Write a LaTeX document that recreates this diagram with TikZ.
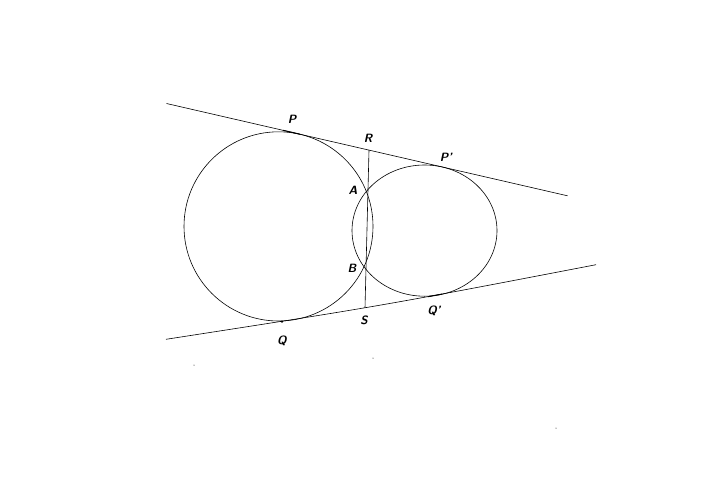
\documentclass[tikz,border=0pt]{standalone}
\begin{document}
\begin{tikzpicture}[x=1pt,y=-1pt,
  geo/.style={line width=0.6pt,black},
  lab/.style={font=\fontsize{12}{12}\selectfont\sffamily\bfseries\itshape,inner sep=1pt},
  speck/.style={fill=black,inner sep=0pt,minimum size=1pt,circle}]
\useasboundingbox (0,0) rectangle (720,477);
% tangent lines
\coordinate (T1) at (166.5,103.5);
\coordinate (T2) at (567.5,195.8);
\coordinate (B1) at (166,339.3);
\coordinate (BC) at (381,306);
\coordinate (B2) at (596,264.7);
\draw[geo] (T1) -- (T2);
\draw[geo] (B1) .. controls (BC) .. (B2);
% circles
\coordinate (O1) at (278.5,226.4);
\coordinate (O2) at (424.5,230.6);
\draw[geo] (O1) ellipse [x radius=94.5, y radius=94.6];
\draw[geo] (O2) ellipse [x radius=72.5, y radius=65.6];
% radical axis segment
\coordinate (Rp) at (369,150.1);
\coordinate (Sp) at (365,307.8);
\draw[geo] (Rp) -- (Sp);
% tangency marks
\coordinate (Qp) at (282,321.6);
\draw[line width=1pt] (283,130.3) -- (300,134.2);
\fill (Qp) circle (1.3);
\draw[line width=1pt] (428,296.7) -- (442,294.1);
% labels
\node[lab] (P) at (292,119.5) {P};
\node[lab] (R) at (368,138) {R};
\node[lab] (P2) at (446,157.5) {P'};
\node[lab] (A) at (353,190) {A};
\node[lab] (B) at (352,268) {B};
\node[lab] (S) at (364,320.5) {S};
\node[lab] (Q) at (282,341) {Q};
\node[lab] (Q2) at (434,310.5) {Q'};
% stray specks
\node[speck] (d1) at (194,365) {};
\node[speck] (d2) at (373,358) {};
\node[speck] (d3) at (556,428) {};
\end{tikzpicture}
\end{document}
